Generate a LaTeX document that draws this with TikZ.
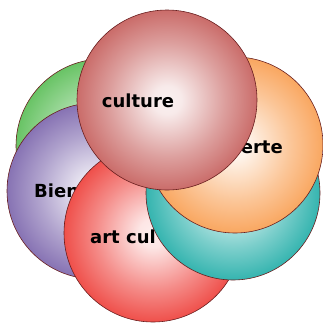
\documentclass[tikz,border=0pt]{standalone}
\usepackage{fontspec}
\setsansfont{DejaVu Sans}

\definecolor{rim}{RGB}{105,30,30}
\definecolor{vert}{RGB}{76,184,72}
\definecolor{violet}{RGB}{112,88,165}
\definecolor{rouge}{RGB}{236,46,40}
\definecolor{sarcelle}{RGB}{14,166,160}
\definecolor{orangee}{RGB}{248,150,66}
\definecolor{brique}{RGB}{192,80,77}

% white core fading out to the circle's own colour
\colorlet{ballcol}{brique}
\pgfdeclareradialshading[ballcol]{ball}{\pgfpoint{0bp}{0bp}}{%
  color(0bp)=(ballcol!8!white); color(4bp)=(ballcol!12!white);
  color(16bp)=(ballcol!55!white); color(30bp)=(ballcol); color(50bp)=(ballcol)}

\tikzset{
  ball/.style 2 args = {circle, draw=rim, line width=0.6pt, inner sep=0pt,
    minimum size=#2, /utils/exec={\colorlet{ballcol}{#1}}, shading=ball},
  word/.style = {font=\sffamily\bfseries\fontsize{18}{21}\selectfont, inner sep=0pt}
}

\begin{document}
\begin{tikzpicture}[x=1pt, y=-1pt]
\useasboundingbox (0,0) rectangle (323,322);
% back to front
\node[ball={vert}{174pt}] (g) at (103,146) {};
\node[ball={violet}{176pt}] (v) at (95,191) {};
\node[word, anchor=west] (tv) at (34,191) {Bien};
\node[ball={rouge}{178pt}] (r) at (153,233) {};
\node[word, anchor=west] (tr) at (90,237) {art cul};
\node[ball={sarcelle}{174pt}] (s) at (233,193) {};
\node[ball={orangee}{176pt}] (o) at (235,145) {};
\node[word, anchor=east] (to) at (283,147) {erte};
\node[ball={brique}{180pt}] (c) at (167,100) {};
\node[word] (tc) at (138,101) {culture};
\end{tikzpicture}
\end{document}
